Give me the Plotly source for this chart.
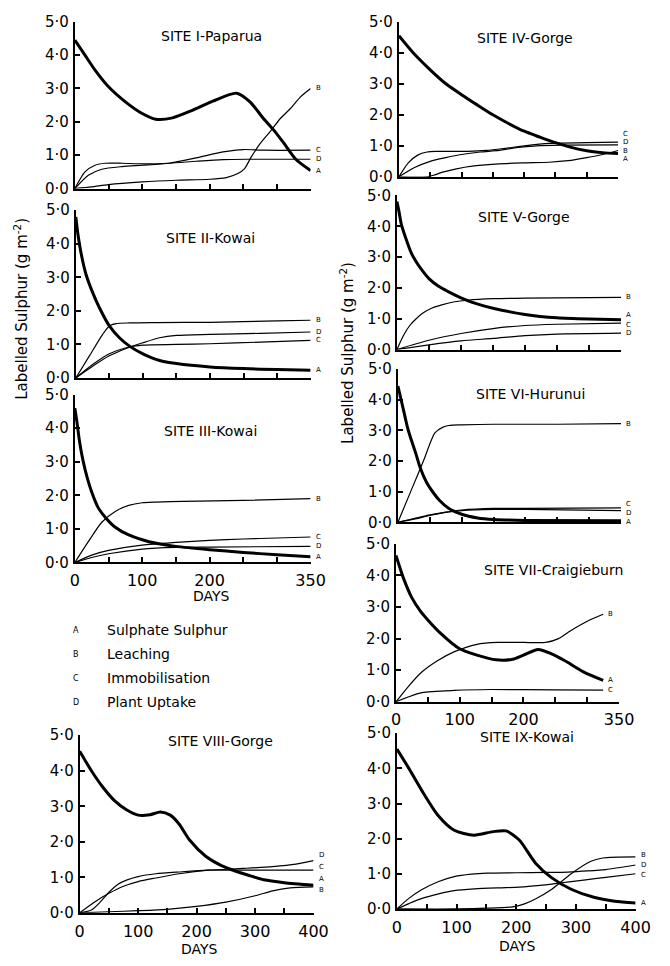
import plotly.graph_objects as go

W, H = 670, 966

# ---------------- DATA ----------------
SITE_TITLES = ["SITE I-Paparua", "SITE II-Kowai", "SITE III-Kowai", "SITE IV-Gorge",
               "SITE V-Gorge", "SITE VI-Hurunui", "SITE VII-Craigieburn",
               "SITE VIII-Gorge", "SITE IX-Kowai"]
Y_TICKS = [0, 1, 2, 3, 4, 5]
Y_TICK_TEXT = ["0·0", "1·0", "2·0", "3·0", "4·0", "5·0"]
X_TICKS_350 = [0, 50, 100, 150, 200, 250, 300, 350]
X_TEXT_350 = ["0", " ", "100", " ", "200", " ", " ", "350"]
X_TICKS_400 = [0, 50, 100, 150, 200, 250, 300, 350, 400]
X_TEXT_400 = ["0", " ", "100", " ", "200", " ", "300", " ", "400"]
LEGEND_LETTERS = ["A", "B", "C", "D"]
LEGEND_NAMES = ["Sulphate Sulphur", "Leaching", "Immobilisation", "Plant Uptake"]

# Site I
S1_A_D = [0, 15, 30, 50, 75, 100, 120, 145, 175, 205, 240, 260, 280, 295, 310, 328, 350]
S1_A = [4.45, 4.0, 3.55, 3.05, 2.6, 2.25, 2.08, 2.12, 2.35, 2.62, 2.86, 2.6, 2.1, 1.76, 1.37, 0.88, 0.54]
S1_B_D = [0, 25, 50, 100, 150, 200, 225, 242, 252, 262, 275, 292, 305, 320, 335, 350]
S1_B = [0, 0.05, 0.12, 0.2, 0.25, 0.28, 0.33, 0.45, 0.6, 0.95, 1.35, 1.76, 2.1, 2.4, 2.75, 3.0]
S1_C_D = [0, 20, 40, 70, 100, 140, 180, 220, 250, 280, 350]
S1_C = [0, 0.4, 0.58, 0.66, 0.7, 0.76, 0.92, 1.1, 1.17, 1.15, 1.15]
S1_D_D = [0, 15, 30, 45, 70, 100, 140, 180, 220, 260, 350]
S1_D = [0, 0.5, 0.7, 0.76, 0.76, 0.74, 0.76, 0.82, 0.87, 0.88, 0.88]

# Site II
S2_A_D = [0, 3, 8, 15, 25, 35, 50, 65, 80, 100, 125, 150, 200, 250, 300, 350]
S2_A = [4.8, 4.3, 3.7, 3.1, 2.55, 2.1, 1.55, 1.2, 0.95, 0.72, 0.52, 0.43, 0.33, 0.28, 0.25, 0.23]
S2_B_D = [0, 20, 40, 50, 60, 80, 120, 200, 300, 350]
S2_B = [0, 0.65, 1.3, 1.55, 1.62, 1.64, 1.65, 1.66, 1.7, 1.72]
S2_C_D = [0, 25, 50, 75, 100, 150, 200, 275, 350]
S2_C = [0, 0.4, 0.72, 0.9, 0.98, 1.0, 1.02, 1.07, 1.12]
S2_D_D = [0, 25, 50, 75, 100, 125, 150, 200, 275, 350]
S2_D = [0, 0.35, 0.66, 0.88, 1.05, 1.2, 1.27, 1.3, 1.33, 1.37]

# Site III
S3_A_D = [0, 3, 7, 12, 18, 25, 35, 45, 60, 80, 110, 150, 200, 250, 300, 350]
S3_A = [4.6, 4.2, 3.6, 3.05, 2.55, 2.1, 1.62, 1.35, 1.05, 0.82, 0.62, 0.48, 0.38, 0.3, 0.23, 0.17]
S3_B_D = [0, 20, 40, 60, 80, 100, 120, 160, 250, 350]
S3_B = [0, 0.62, 1.2, 1.52, 1.7, 1.78, 1.8, 1.82, 1.85, 1.9]
S3_C_D = [0, 25, 50, 100, 150, 200, 250, 300, 350]
S3_C = [0, 0.22, 0.36, 0.52, 0.6, 0.66, 0.7, 0.73, 0.76]
S3_D_D = [0, 25, 50, 100, 150, 200, 350]
S3_D = [0, 0.15, 0.26, 0.4, 0.45, 0.46, 0.48]

# Site IV
S4_A_D = [0, 25, 50, 75, 100, 125, 150, 175, 200, 225, 250, 275, 300, 325, 350]
S4_A = [4.55, 3.95, 3.45, 3.0, 2.65, 2.32, 2.0, 1.72, 1.47, 1.28, 1.1, 0.95, 0.84, 0.78, 0.75]
S4_B_D = [0, 45, 55, 70, 90, 120, 160, 200, 240, 270, 300, 325, 350]
S4_B = [0, 0, 0.05, 0.15, 0.25, 0.35, 0.42, 0.45, 0.47, 0.52, 0.62, 0.72, 0.85]
S4_C_D = [0, 15, 30, 45, 60, 80, 110, 140, 170, 200, 240, 300, 350]
S4_C = [0, 0.45, 0.7, 0.8, 0.82, 0.82, 0.82, 0.85, 0.92, 1.0, 1.08, 1.1, 1.12]
S4_D_D = [0, 25, 50, 75, 100, 130, 160, 190, 220, 260, 350]
S4_D = [0, 0.3, 0.5, 0.62, 0.72, 0.8, 0.85, 0.95, 1.0, 1.02, 1.03]

# Site V
S5_A_D = [0, 3, 7, 14, 22, 30, 40, 50, 65, 80, 100, 125, 150, 200, 250, 300, 350]
S5_A = [4.8, 4.5, 4.05, 3.6, 3.15, 2.85, 2.55, 2.3, 2.05, 1.88, 1.68, 1.48, 1.34, 1.14, 1.03, 0.99, 0.97]
S5_B_D = [0, 10, 20, 30, 40, 55, 70, 90, 110, 150, 200, 350]
S5_B = [0, 0.45, 0.78, 1.0, 1.18, 1.35, 1.45, 1.55, 1.6, 1.65, 1.67, 1.69]
S5_C_D = [0, 50, 100, 150, 200, 250, 350]
S5_C = [0, 0.3, 0.52, 0.68, 0.78, 0.82, 0.86]
S5_D_D = [0, 50, 100, 150, 200, 250, 350]
S5_D = [0, 0.15, 0.28, 0.36, 0.45, 0.5, 0.53]

# Site VI
S6_A_D = [0, 5, 10, 15, 20, 28, 35, 45, 55, 65, 80, 100, 125, 150, 200, 350]
S6_A = [4.45, 4.0, 3.55, 3.1, 2.75, 2.25, 1.78, 1.3, 0.98, 0.72, 0.45, 0.26, 0.14, 0.09, 0.06, 0.05]
S6_B_D = [0, 20, 40, 58, 70, 80, 100, 150, 250, 350]
S6_B = [0, 1.0, 2.0, 2.92, 3.1, 3.16, 3.18, 3.2, 3.2, 3.22]
S6_C_D = [0, 25, 50, 75, 100, 150, 200, 350]
S6_C = [0, 0.12, 0.24, 0.33, 0.4, 0.45, 0.45, 0.47]
S6_D_D = [0, 25, 50, 75, 100, 150, 200, 350]
S6_D = [0, 0.1, 0.22, 0.32, 0.38, 0.42, 0.42, 0.38]

# Site VII
S7_A_D = [0, 12, 25, 38, 51, 71, 99, 127, 157, 183, 200, 223, 244, 265, 294, 325]
S7_A = [4.63, 3.9, 3.29, 2.88, 2.57, 2.15, 1.69, 1.48, 1.33, 1.35, 1.48, 1.66, 1.52, 1.3, 0.95, 0.68]
S7_B_D = [0, 20, 41, 65, 91, 127, 160, 200, 235, 255, 274, 300, 325]
S7_B = [0, 0.5, 0.95, 1.3, 1.58, 1.82, 1.88, 1.88, 1.88, 2.0, 2.25, 2.55, 2.77]
S7_C_D = [0, 20, 41, 91, 150, 250, 325]
S7_C = [0, 0.16, 0.29, 0.36, 0.39, 0.38, 0.37]

# Site VIII
S8_A_D = [0, 20, 39, 60, 80, 100, 120, 138, 155, 170, 188, 215, 240, 259, 290, 315, 350, 400]
S8_A = [4.55, 4.0, 3.55, 3.15, 2.9, 2.75, 2.76, 2.84, 2.75, 2.5, 2.05, 1.6, 1.35, 1.22, 1.05, 0.93, 0.85, 0.78]
S8_B_D = [0, 50, 100, 150, 200, 250, 300, 330, 360, 400]
S8_B = [0, 0.03, 0.06, 0.1, 0.18, 0.3, 0.48, 0.62, 0.7, 0.73]
S8_C_D = [0, 20, 35, 50, 65, 80, 100, 130, 170, 220, 300, 400]
S8_C = [0, 0.08, 0.3, 0.58, 0.8, 0.92, 1.02, 1.1, 1.15, 1.2, 1.2, 1.2]
S8_D_D = [0, 25, 50, 75, 100, 130, 170, 220, 280, 330, 370, 400]
S8_D = [0, 0.3, 0.55, 0.75, 0.88, 0.98, 1.1, 1.2, 1.25, 1.3, 1.37, 1.47]

# Site IX
S9_A_D = [0, 20, 42, 69, 96, 129, 161, 183, 205, 232, 259, 292, 330, 365, 400]
S9_A = [4.55, 4.0, 3.36, 2.66, 2.24, 2.1, 2.2, 2.22, 1.96, 1.31, 0.89, 0.56, 0.33, 0.22, 0.17]
S9_B_D = [0, 100, 150, 194, 215, 232, 259, 292, 324, 345, 400]
S9_B = [0, 0, 0.02, 0.06, 0.15, 0.28, 0.55, 1.0, 1.35, 1.45, 1.48]
S9_C_D = [0, 20, 42, 70, 96, 130, 170, 205, 240, 270, 313, 350, 400]
S9_C = [0, 0.15, 0.3, 0.43, 0.52, 0.57, 0.6, 0.62, 0.67, 0.73, 0.82, 0.9, 1.0]
S9_D_D = [0, 20, 42, 70, 96, 125, 151, 200, 250, 286, 320, 350, 400]
S9_D = [0, 0.3, 0.55, 0.78, 0.92, 0.99, 1.02, 1.03, 1.04, 1.05, 1.08, 1.12, 1.25]

SITE_SERIES = [
    [("A", S1_A_D, S1_A), ("B", S1_B_D, S1_B), ("C", S1_C_D, S1_C), ("D", S1_D_D, S1_D)],
    [("A", S2_A_D, S2_A), ("B", S2_B_D, S2_B), ("C", S2_C_D, S2_C), ("D", S2_D_D, S2_D)],
    [("A", S3_A_D, S3_A), ("B", S3_B_D, S3_B), ("C", S3_C_D, S3_C), ("D", S3_D_D, S3_D)],
    [("A", S4_A_D, S4_A), ("B", S4_B_D, S4_B), ("C", S4_C_D, S4_C), ("D", S4_D_D, S4_D)],
    [("A", S5_A_D, S5_A), ("B", S5_B_D, S5_B), ("C", S5_C_D, S5_C), ("D", S5_D_D, S5_D)],
    [("A", S6_A_D, S6_A), ("B", S6_B_D, S6_B), ("C", S6_C_D, S6_C), ("D", S6_D_D, S6_D)],
    [("A", S7_A_D, S7_A), ("B", S7_B_D, S7_B), ("C", S7_C_D, S7_C)],
    [("A", S8_A_D, S8_A), ("B", S8_B_D, S8_B), ("C", S8_C_D, S8_C), ("D", S8_D_D, S8_D)],
    [("A", S9_A_D, S9_A), ("B", S9_B_D, S9_B), ("C", S9_C_D, S9_C), ("D", S9_D_D, S9_D)],
]

# ---------------- LAYOUT (pixel boxes: x0, x_end, y_zero, y_five) ----------------
PANELS = [
    dict(box=(72, 315, 183, 13), xmax=350, xlab=False, days=None, title=(213, 28), standoff=2),
    dict(box=(73, 315, 376, 205), xmax=350, xlab=False, days=None, title=(212, 233), standoff=2),
    dict(box=(72, 315, 564, 393), xmax=350, xlab=True, days=(213, 598), title=(212, 430), standoff=2),
    dict(box=(406, 632, 171, 13), xmax=350, xlab=False, days=None, title=(536, 30), standoff=2),
    dict(box=(404, 635, 347, 190), xmax=350, xlab=False, days=None, title=(535, 212), standoff=2),
    dict(box=(405, 635, 523, 367), xmax=350, xlab=False, days=None, title=(542, 392), standoff=2),
    dict(box=(403, 633, 706, 545), xmax=350, xlab=True, days=None, title=(565, 572), standoff=2),
    dict(box=(77, 318, 921, 740), xmax=400, xlab=True, days=(200, 958), title=(222, 746), standoff=3),
    dict(box=(404, 650, 917, 738), xmax=400, xlab=True, days=(528, 955), title=(538, 742), standoff=3),
]
# small vertical nudges for end-of-curve letters (pixels), to keep them legible
LABEL_SHIFT = {
    (4, "C"): 8, (4, "D"): 3, (4, "B"): -1, (4, "A"): -5,
    (5, "A"): 5, (5, "C"): -2,
    (6, "C"): 4, (6, "D"): -2, (6, "A"): -1,
    (8, "D"): 6, (8, "C"): 3, (8, "A"): 6, (8, "B"): -3,
    (9, "B"): 2, (9, "C"): -1,
}

FONT = "DejaVu Sans"


def px(xp):
    return xp / W


def py(yp):
    return 1 - yp / H


fig = go.Figure()
annotations = []
layout_axes = {}

for i, (panel, series) in enumerate(zip(PANELS, SITE_SERIES)):
    n = i + 1
    sfx = "" if n == 1 else str(n)
    x0, x1, y0, y5 = panel["box"]
    ticks_x = X_TICKS_350 if panel["xmax"] == 350 else X_TICKS_400
    text_x = X_TEXT_350 if panel["xmax"] == 350 else X_TEXT_400
    layout_axes["xaxis" + sfx] = dict(
        domain=[px(x0), px(x1)], range=[0, panel["xmax"]], anchor="y" + sfx,
        showline=True, linewidth=2, linecolor="black", showgrid=False, zeroline=False,
        ticks="inside", ticklen=5, tickwidth=1.5, tickcolor="black",
        tickvals=ticks_x, ticktext=text_x, showticklabels=panel["xlab"],
        ticklabelstandoff=panel["standoff"],
        tickfont=dict(family=FONT, size=16, color="black"), fixedrange=True,
    )
    layout_axes["yaxis" + sfx] = dict(
        domain=[py(y0), py(y5)], range=[0, 5], anchor="x" + sfx,
        showline=True, linewidth=2, linecolor="black", showgrid=False, zeroline=False,
        ticks="inside", ticklen=5, tickwidth=1.5, tickcolor="black",
        tickvals=Y_TICKS, ticktext=Y_TICK_TEXT, ticklabelstandoff=1,
        tickfont=dict(family=FONT, size=15, color="black"), fixedrange=True,
    )
    for letter, d, v in series:
        fig.add_trace(go.Scatter(
            x=d, y=v, mode="lines", xaxis="x" + sfx, yaxis="y" + sfx,
            line=dict(color="black", width=3 if letter == "A" else 1.2,
                      shape="spline", smoothing=0.7),
            cliponaxis=False, hoverinfo="skip", showlegend=False,
        ))
        annotations.append(dict(
            x=d[-1], y=v[-1], xref="x" + sfx, yref="y" + sfx, text=letter,
            showarrow=False, xanchor="left", yanchor="middle", xshift=3,
            yshift=LABEL_SHIFT.get((n, letter), 0),
            font=dict(family=FONT, size=7, color="black"),
        ))
    tx, ty = panel["title"]
    annotations.append(dict(x=px(tx), y=py(ty), xref="paper", yref="paper",
                            text=SITE_TITLES[i], showarrow=False,
                            xanchor="center", yanchor="middle",
                            font=dict(family=FONT, size=14, color="black")))
    if panel["days"]:
        dx, dy = panel["days"]
        annotations.append(dict(x=px(dx), y=py(dy), xref="paper", yref="paper",
                                text="DAYS", showarrow=False, xanchor="center", yanchor="middle",
                                font=dict(family=FONT, size=14, color="black")))

# Y-axis titles
for xc, yc in [(17, 305), (353, 350)]:
    annotations.append(dict(x=px(xc), y=py(yc), xref="paper", yref="paper",
                            text="Labelled Sulphur (g m<sup>-2</sup>)", textangle=-90,
                            showarrow=False, xanchor="center", yanchor="middle",
                            font=dict(family=FONT, size=15, color="black")))

# Legend
for k, (let, name) in enumerate(zip(LEGEND_LETTERS, LEGEND_NAMES)):
    yy = 633 + k * 24.5
    annotations.append(dict(x=px(73), y=py(yy), xref="paper", yref="paper", text=let,
                            showarrow=False, xanchor="center", yanchor="middle",
                            font=dict(family=FONT, size=8, color="black")))
    annotations.append(dict(x=px(103), y=py(yy), xref="paper", yref="paper", text=name,
                            showarrow=False, xanchor="left", yanchor="middle",
                            font=dict(family=FONT, size=14, color="black")))

fig.update_layout(
    width=W, height=H, margin=dict(l=0, r=0, t=0, b=0),
    paper_bgcolor="white", plot_bgcolor="white",
    annotations=annotations, showlegend=False, **layout_axes,
)

fig.write_html("out.html")
